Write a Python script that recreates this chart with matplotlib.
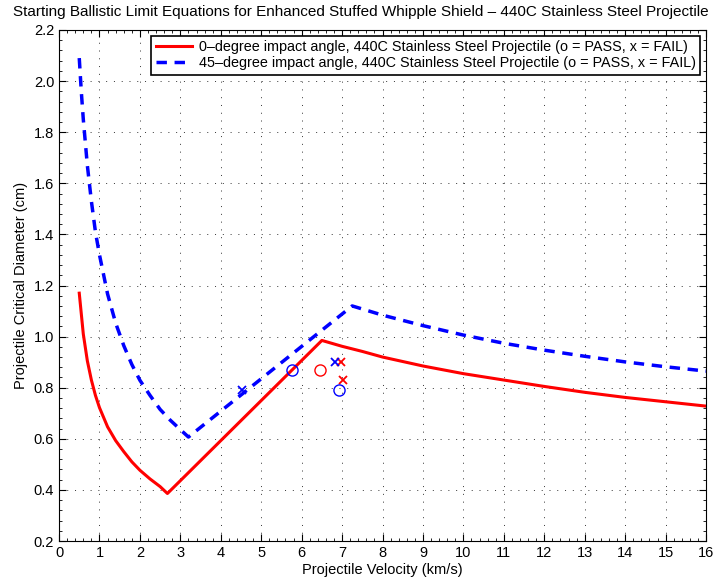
import matplotlib
matplotlib.use("Agg")
import matplotlib.pyplot as plt
from matplotlib.ticker import MultipleLocator

plt.rcParams['font.family'] = ['Liberation Sans', 'DejaVu Sans']
plt.rcParams['font.size'] = 10

# 0-degree curve
v_0deg = [0.5, 0.6, 0.7, 0.8, 0.9, 1.0, 1.2, 1.4, 1.6, 1.8, 2.0, 2.25, 2.5, 2.68,
          6.5, 7.0, 7.5, 8, 9, 10, 11, 12, 13, 14, 15, 16]
d_0deg = [1.17, 1.01, 0.905, 0.83, 0.77, 0.722, 0.647, 0.593, 0.55, 0.51, 0.477, 0.443, 0.413, 0.386,
          0.985, 0.962, 0.942, 0.92, 0.885, 0.855, 0.83, 0.805, 0.782, 0.762, 0.745, 0.728]

# 45-degree curve
v_45deg = [0.5, 0.55, 0.6, 0.7, 0.8, 0.9, 1.0, 1.2, 1.4, 1.6, 1.8, 2.0, 2.25, 2.5, 2.75, 3.0, 3.2,
           7.25, 8, 9, 10, 11, 12, 13, 14, 15, 16]
d_45deg = [2.09, 1.96, 1.85, 1.67, 1.53, 1.41, 1.32, 1.167, 1.053, 0.965, 0.891, 0.829, 0.77, 0.715, 0.673, 0.636, 0.607,
           1.12, 1.084, 1.043, 1.006, 0.974, 0.947, 0.923, 0.901, 0.882, 0.865]

# test shots
red_pass_v, red_pass_d = [6.45], [0.87]
red_fail_v, red_fail_d = [6.97, 7.02], [0.90, 0.83]
blue_pass_v, blue_pass_d = [5.75, 6.92], [0.87, 0.79]
blue_fail_v, blue_fail_d = [4.52, 6.83], [0.79, 0.90]

fig = plt.figure(figsize=(7.2, 5.81), dpi=100)
ax = fig.add_axes([0.082, 0.0688, 0.8986, 0.8796])

ax.plot(v_0deg, d_0deg, color='red', lw=2.2,
        label='0–degree impact angle, 440C Stainless Steel Projectile (o = PASS, x = FAIL)')
ax.plot(v_45deg, d_45deg, color='blue', lw=2.5, ls=(0, (3, 2.2)),
        label='45–degree impact angle, 440C Stainless Steel Projectile (o = PASS, x = FAIL)')

ax.plot(red_pass_v, red_pass_d, 'o', mfc='none', mec='red', ms=8, mew=1)
ax.plot(red_fail_v, red_fail_d, 'x', color='red', ms=5.5, mew=1.3)
ax.plot(blue_pass_v, blue_pass_d, 'o', mfc='none', mec='blue', ms=8, mew=1)
ax.plot(blue_fail_v, blue_fail_d, 'x', color='blue', ms=5.5, mew=1.3)

ax.set_xlim(0, 16)
ax.set_ylim(0.2, 2.2)
ax.xaxis.set_major_locator(MultipleLocator(1))
ax.yaxis.set_major_locator(MultipleLocator(0.2))
ax.xaxis.set_minor_locator(MultipleLocator(0.2))
ax.yaxis.set_minor_locator(MultipleLocator(0.04))
ax.tick_params(which='both', direction='in', top=True, right=True, labelsize=10.5)
ax.tick_params(which='major', length=5)
ax.tick_params(which='minor', length=2.5)
ax.grid(True, which='major', ls=(0, (1, 7)), color='#333333', lw=0.7)
for s in ax.spines.values():
    s.set_linewidth(0.8)

ax.set_xlabel('Projectile Velocity (km/s)', labelpad=2, fontsize=10.5)
ax.set_ylabel('Projectile Critical Diameter (cm)', labelpad=4, fontsize=10.5)
fig.text(0.501, 0.979,
         'Starting Ballistic Limit Equations for Enhanced Stuffed Whipple Shield – 440C Stainless Steel Projectile',
         fontsize=11, ha='center', va='center')

leg = ax.legend(loc='upper right', fancybox=False, framealpha=1, edgecolor='black',
                borderpad=0.3, labelspacing=0.15, handlelength=2.5, handletextpad=0.5,
                borderaxespad=0.4, prop={'size': 10.4})
leg.get_frame().set_linewidth(1.2)

fig.savefig('out.png', dpi=100)
